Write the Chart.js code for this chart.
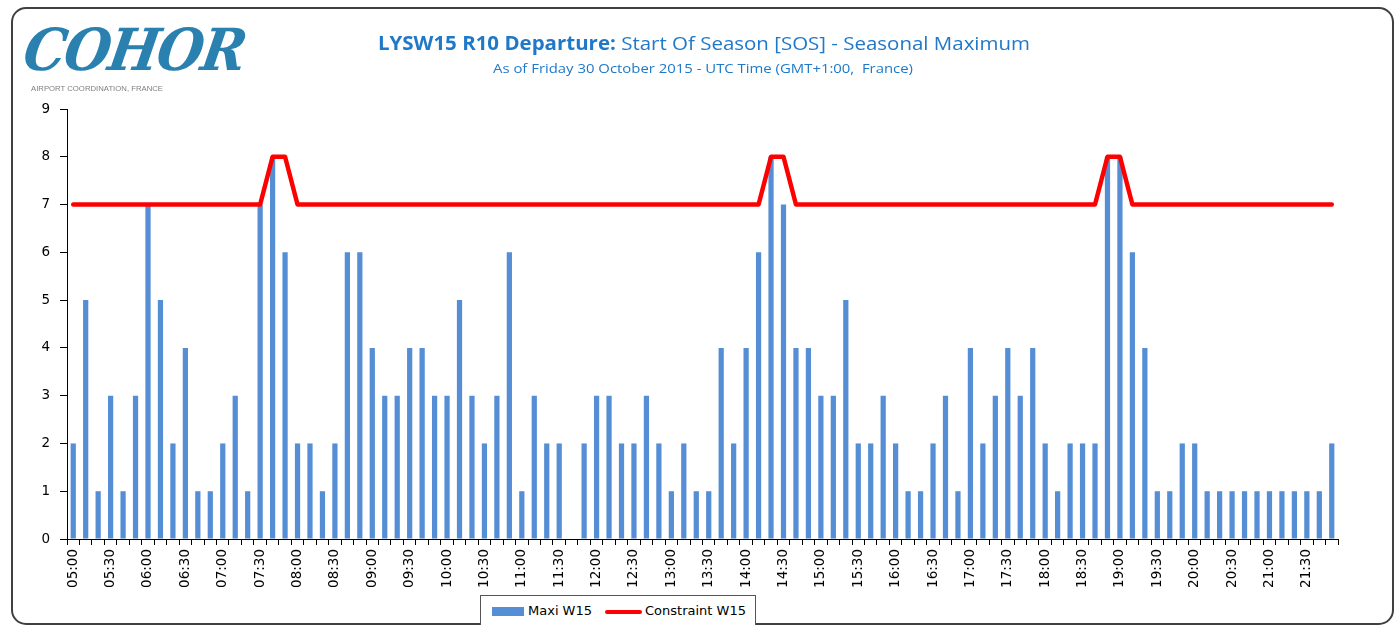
<!DOCTYPE html>
<html>
<head>
<meta charset="utf-8">
<script src="https://cdn.jsdelivr.net/npm/chart.js@4.4.1/dist/chart.umd.min.js"></script>
<style>
  html, body { margin:0; padding:0; background:#fff; width:1397px; height:625px; overflow:hidden; position:relative; }
  #frame { position:absolute; left:11px; top:7px; width:1379px; height:614px; border:2px solid #404040; border-radius:15px; box-sizing:content-box; }
  #wrap { position:absolute; left:0; top:0; width:1397px; height:625px; }
  .fit { position:absolute; white-space:nowrap; transform-origin:left top; }
  #logo { left:30px; top:16px; font-family:"DejaVu Serif", serif; font-weight:bold; font-style:italic; font-size:58px; color:#2A80AE; letter-spacing:-2px; }
  #logosub { left:31px; top:84px; font-family:"Liberation Sans", sans-serif; font-size:7.5px; color:#7f7f7f; }
  #title { top:30px; font-family:"Open Sans", sans-serif; font-size:19px; color:#1F78C8; }
  #title b { font-weight:700; }
  #subtitle { top:59px; font-family:"Open Sans", sans-serif; font-size:13px; color:#1F78C8; }
  #legend { position:absolute; left:480px; top:595px; width:276px; height:40px; border:1px solid #555; background:#fff; box-sizing:border-box; font-family:"DejaVu Sans", sans-serif; font-size:13px; color:#000; }
  #legend .sw { position:absolute; left:11px; top:11px; width:32px; height:9px; background:#558ED5; }
  #legend .t1 { position:absolute; left:47px; top:7px; }
  #legend .ln { position:absolute; left:124px; top:14px; width:37px; height:4px; background:#FF0000; border-radius:2px; }
  #legend .t2 { position:absolute; left:164px; top:7px; }
</style>
</head>
<body>
<div id="frame"></div>
<div id="wrap"><canvas id="c" width="1397" height="625"></canvas></div>
<div id="logo" class="fit">COHOR</div>
<div id="logosub" class="fit">AIRPORT COORDINATION, FRANCE</div>
<div id="title" class="fit"><b>LYSW15 R10 Departure:</b> Start Of Season [SOS] - Seasonal Maximum</div>
<div id="subtitle" class="fit">As of Friday 30 October 2015 - UTC Time (GMT+1:00,&nbsp; France)</div>
<div id="legend"><div class="sw"></div><span class="t1">Maxi W15</span><div class="ln"></div><span class="t2">Constraint W15</span></div>
<script>
// ---- data ----
const timeLabels = [
  "05:00","05:10","05:20","05:30","05:40","05:50",
  "06:00","06:10","06:20","06:30","06:40","06:50",
  "07:00","07:10","07:20","07:30","07:40","07:50",
  "08:00","08:10","08:20","08:30","08:40","08:50",
  "09:00","09:10","09:20","09:30","09:40","09:50",
  "10:00","10:10","10:20","10:30","10:40","10:50",
  "11:00","11:10","11:20","11:30","11:40","11:50",
  "12:00","12:10","12:20","12:30","12:40","12:50",
  "13:00","13:10","13:20","13:30","13:40","13:50",
  "14:00","14:10","14:20","14:30","14:40","14:50",
  "15:00","15:10","15:20","15:30","15:40","15:50",
  "16:00","16:10","16:20","16:30","16:40","16:50",
  "17:00","17:10","17:20","17:30","17:40","17:50",
  "18:00","18:10","18:20","18:30","18:40","18:50",
  "19:00","19:10","19:20","19:30","19:40","19:50",
  "20:00","20:10","20:20","20:30","20:40","20:50",
  "21:00","21:10","21:20","21:30","21:40","21:50"
];
const maxiW15 = [
  2,5,1,3,1,3, 7,5,2,4,1,1, 2,3,1,7,8,6, 2,2,1,2,6,6,
  4,3,3,4,4,3, 3,5,3,2,3,6, 1,3,2,2,0,2, 3,3,2,2,3,2,
  1,2,1,1,4,2, 4,6,8,7,4,4, 3,3,5,2,2,3, 2,1,1,2,3,1,
  4,2,3,4,3,4, 2,1,2,2,2,8, 8,6,4,1,1,2, 2,1,1,1,1,1,
  1,1,1,1,1,2
];
const constraintW15 = [
  7,7,7,7,7,7, 7,7,7,7,7,7, 7,7,7,7,8,8, 7,7,7,7,7,7,
  7,7,7,7,7,7, 7,7,7,7,7,7, 7,7,7,7,7,7, 7,7,7,7,7,7,
  7,7,7,7,7,7, 7,7,8,8,7,7, 7,7,7,7,7,7, 7,7,7,7,7,7,
  7,7,7,7,7,7, 7,7,7,7,7,8, 8,7,7,7,7,7, 7,7,7,7,7,7,
  7,7,7,7,7,7
];
const yTicks = [0,1,2,3,4,5,6,7,8,9];

// ---- text fitting (layout only) ----
function fit(id, left, width) {
  const el = document.getElementById(id);
  const w = el.getBoundingClientRect().width;
  el.style.left = left + "px";
  el.style.transform = "scaleX(" + (width / w) + ")";
}
fit("logo", 30, 220);
fit("logosub", 31, 132);
fit("title", 378, 652);
fit("subtitle", 493, 420);
document.getElementById("logo").style.transform += " skewX(-10deg)";

// ---- chart ----
const tickFont = { family: "DejaVu Sans", size: 13.5 };
new Chart(document.getElementById("c"), {
  type: "bar",
  data: {
    labels: timeLabels,
    datasets: [
      {
        type: "line",
        label: "Constraint W15",
        data: constraintW15,
        borderColor: "#FF0000",
        backgroundColor: "#FF0000",
        borderWidth: 4.5,
        pointRadius: 0,
        tension: 0,
        borderJoinStyle: "round",
        borderCapStyle: "round",
        order: 1
      },
      {
        type: "bar",
        label: "Maxi W15",
        data: maxiW15,
        backgroundColor: "#558ED5",
        borderWidth: 0,
        barPercentage: 0.42,
        categoryPercentage: 1.0,
        order: 2
      }
    ]
  },
  options: {
    responsive: false,
    animation: false,
    events: [],
    layout: { padding: { left: 20, top: 109, right: 59, bottom: 0 } },
    plugins: { legend: { display: false }, title: { display: false }, tooltip: { enabled: false } },
    scales: {
      x: {
        offset: true,
        grid: { display: true, drawOnChartArea: false, drawTicks: true, tickLength: 6, color: "#000", offset: true, lineWidth: 1 },
        border: { display: true, color: "#000", width: 1 },
        ticks: {
          autoSkip: false,
          maxRotation: 90,
          minRotation: 90,
          padding: 4,
          color: "#000",
          font: tickFont,
          callback: function (v, i) { return i % 3 === 0 ? timeLabels[i] : ""; }
        },
        afterFit: function (s) { s.height = 86; }
      },
      y: {
        min: 0,
        max: 9,
        afterBuildTicks: function (s) { s.ticks = yTicks.map(v => ({ value: v })); },
        grid: { display: true, drawOnChartArea: false, drawTicks: true, tickLength: 7, color: "#000" },
        border: { display: true, color: "#000", width: 1 },
        ticks: { padding: 10, color: "#000", font: tickFont },
        afterFit: function (s) { s.width = 47; }
      }
    }
  }
});
</script>
</body>
</html>
